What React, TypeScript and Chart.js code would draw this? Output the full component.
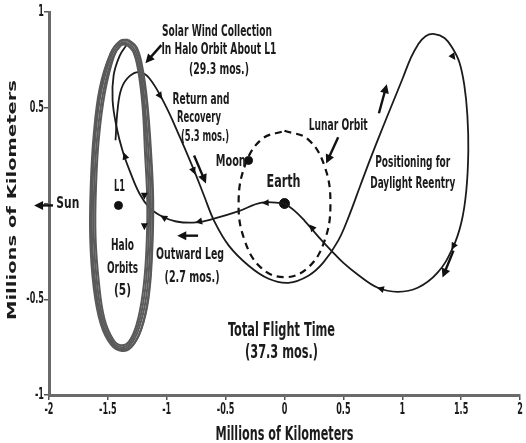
import React, { useEffect, useRef } from 'react';
import { Chart, registerables } from 'chart.js';

Chart.register(...registerables);

type Pt = [number, number];

// ---------- axes ----------
const xTickValues = [-2, -1.5, -1, -0.5, 0, 0.5, 1, 1.5, 2];
const xTickLabels = ['-2', '-1.5', '-1', '-0.5', '0', '0.5', '1', '1.5', '2'];
const yTickValues = [-1, -0.5, 0, 0.5, 1];
const yTickLabels = ['-1', '-0.5', '', '0.5', '1'];
const axisTitleX = 'Millions of Kilometers';
const axisTitleY = 'Millions of Kilometers';

// ---------- trajectory data (millions of km) ----------
const haloLoop1: Pt[] = [
  [-1.33, 0.85], [-1.26, 0.81], [-1.21, 0.7], [-1.17, 0.52], [-1.14, 0.28], [-1.12, 0.0],
  [-1.13, -0.28], [-1.16, -0.5], [-1.22, -0.66], [-1.3, -0.75], [-1.38, -0.77], [-1.47, -0.74],
  [-1.56, -0.63], [-1.62, -0.44], [-1.65, -0.18], [-1.645, 0.1], [-1.62, 0.36], [-1.57, 0.6],
  [-1.48, 0.78], [-1.4, 0.845], [-1.33, 0.85],
];
const haloLoop2: Pt[] = [
  [-1.335, 0.84], [-1.27, 0.8], [-1.22, 0.69], [-1.185, 0.51], [-1.155, 0.27], [-1.135, 0.0],
  [-1.145, -0.28], [-1.175, -0.49], [-1.235, -0.65], [-1.31, -0.74], [-1.385, -0.76], [-1.465, -0.73],
  [-1.55, -0.62], [-1.605, -0.43], [-1.635, -0.18], [-1.63, 0.1], [-1.605, 0.36], [-1.555, 0.59],
  [-1.47, 0.77], [-1.395, 0.835], [-1.335, 0.84],
];
const haloLoop3: Pt[] = [
  [-1.34, 0.83], [-1.28, 0.79], [-1.23, 0.68], [-1.195, 0.5], [-1.17, 0.27], [-1.15, 0.0],
  [-1.16, -0.27], [-1.19, -0.48], [-1.245, -0.64], [-1.315, -0.73], [-1.39, -0.75], [-1.46, -0.72],
  [-1.54, -0.61], [-1.59, -0.43], [-1.62, -0.17], [-1.615, 0.1], [-1.59, 0.35], [-1.54, 0.58],
  [-1.46, 0.76], [-1.39, 0.825], [-1.34, 0.83],
];
const haloLoop4: Pt[] = [
  [-1.345, 0.835], [-1.285, 0.795], [-1.24, 0.685], [-1.205, 0.505], [-1.185, 0.27], [-1.165, 0.0],
  [-1.175, -0.27], [-1.205, -0.475], [-1.255, -0.63], [-1.32, -0.72], [-1.39, -0.74], [-1.455, -0.71],
  [-1.53, -0.6], [-1.575, -0.42], [-1.605, -0.17], [-1.6, 0.1], [-1.575, 0.35], [-1.525, 0.58],
  [-1.45, 0.765], [-1.39, 0.83], [-1.345, 0.835],
];
const haloLoop5: Pt[] = [
  [-1.325, 0.855], [-1.255, 0.815], [-1.205, 0.705], [-1.165, 0.525], [-1.135, 0.285], [-1.115, 0.01],
  [-1.125, -0.27], [-1.155, -0.495], [-1.215, -0.655], [-1.295, -0.745], [-1.375, -0.765], [-1.46, -0.735],
  [-1.55, -0.625], [-1.61, -0.435], [-1.64, -0.175], [-1.635, 0.105], [-1.61, 0.365], [-1.56, 0.605],
  [-1.475, 0.785], [-1.395, 0.85], [-1.325, 0.855],
];
const haloLoops = [haloLoop1, haloLoop2, haloLoop3, haloLoop4, haloLoop5];

const outwardLeg: Pt[] = [
  [0, 0], [-0.194, 0.005], [-0.388, -0.04], [-0.599, -0.079], [-0.751, -0.099], [-0.92, -0.094],
  [-1.038, -0.068], [-1.148, -0.021], [-1.232, 0.052], [-1.316, 0.173], [-1.376, 0.277],
  [-1.426, 0.398], [-1.46, 0.539], [-1.451, 0.67], [-1.401, 0.77], [-1.342, 0.827],
];

const returnLeg: Pt[] = [
  [-1.435, 0.33], [-1.418, 0.487], [-1.384, 0.602], [-1.316, 0.665], [-1.232, 0.686],
  [-1.148, 0.654], [-1.021, 0.524],
  [-0.895, 0.356], [-0.768, 0.173], [-0.684, 0.042], [-0.599, -0.089], [-0.473, -0.22],
  [-0.304, -0.325], [-0.135, -0.393], [0.034, -0.414], [0.203, -0.377], [0.329, -0.309],
  [0.456, -0.194], [0.549, -0.063], [0.641, 0.089], [0.734, 0.241], [0.835, 0.398],
  [0.928, 0.539], [1.004, 0.654], [1.072, 0.759], [1.131, 0.827], [1.198, 0.874],
  [1.274, 0.885], [1.359, 0.864], [1.426, 0.812], [1.485, 0.738], [1.527, 0.618],
  [1.553, 0.461], [1.561, 0.277], [1.544, 0.068], [1.502, -0.099], [1.426, -0.236],
  [1.3, -0.361], [1.131, -0.44], [0.962, -0.461], [0.793, -0.44], [0.624, -0.372],
  [0.498, -0.309], [0.397, -0.246], [0.287, -0.173], [0.169, -0.089], [0.084, -0.037], [0, 0],
];

const lunarOrbit: Pt[] = [
  [0, 0.38], [0.2, 0.335], [0.34, 0.195], [0.39, 0], [0.34, -0.195], [0.2, -0.335], [0, -0.385],
  [-0.2, -0.335], [-0.34, -0.19], [-0.39, 0], [-0.335, 0.2], [-0.195, 0.335], [0, 0.38],
];

const bodyNames = ['Earth', 'L1', 'Moon'];
const bodyX = [0, -1.41, -0.305];
const bodyY = [0, -0.01, 0.225];

// direction arrowheads along the path: [fromX, fromY, tipX, tipY]
const pathArrowheads: number[][] = [
  [-1.105, 0.607, -1.038, 0.545],
  [-0.81, 0.225, -0.759, 0.152],
  [-0.118, 0.005, -0.194, 0.003],
  [-0.684, -0.089, -0.759, -0.099],
  [-0.996, -0.084, -1.055, -0.063],
  [-1.333, 0.209, -1.367, 0.267],
  [-1.19, 0.07, -1.19, 0.02],
  [-1.19, -0.09, -1.19, -0.14],
  [1.392, 0.801, 1.451, 0.749],
  [1.46, -0.194, 1.418, -0.241],
  [0.878, -0.455, 0.785, -0.44],
  [0.27, -0.152, 0.211, -0.11],
];

// pointer arrows of the annotations: [fromX, fromY, tipX, tipY]
const pointerArrows: number[][] = [
  [-1.046, 0.827, -1.181, 0.733],
  [-0.768, 0.251, -0.667, 0.105],
  [0.456, 0.346, 0.354, 0.209],
  [0.802, 0.471, 0.869, 0.623],
  [1.435, -0.246, 1.342, -0.387],
  [-0.734, -0.168, -0.911, -0.168],
  [-1.966, -0.01, -2.127, -0.01],
];

const labelTexts = [
  'Solar Wind Collection', 'In Halo Orbit About L1', '(29.3 mos.)',
  'Return and', 'Recovery', '(5.3 mos.)', 'Moon', 'L1', 'Sun', 'Earth', 'Lunar Orbit',
  'Positioning for', 'Daylight Reentry', 'Halo', 'Orbits', '(5)', 'Outward Leg', '(2.7 mos.)',
  'Total Flight Time', '(37.3 mos.)',
];
const labelX = [
  -0.574, -0.557, -0.557, -0.709, -0.726, -0.675, -0.456, -1.401, -1.84, -0.008, 0.456,
  1.089, 1.089, -1.376, -1.376, -1.376, -0.802, -0.785, -0.025, -0.025,
];
const labelY = [
  0.895, 0.801, 0.696, 0.539, 0.445, 0.346, 0.215, 0.084, -0.005, 0.11, 0.403,
  0.209, 0.099, -0.22, -0.34, -0.455, -0.272, -0.387, -0.665, -0.78,
];

// ---------- styling (not data) ----------
const labelWidths = [110, 115, 60, 57, 44, 48, 30, 11, 23, 34, 59, 75, 85, 23, 31, 17, 68, 55, 107, 73];
const labelSizes = [15, 15, 15, 15, 15, 15, 15, 15, 15, 18, 15, 15, 15, 15, 15, 15, 15, 15, 19, 19];
const FONT = '"DejaVu Sans Condensed", "DejaVu Sans", sans-serif';
const INK = '#1b1b1b';

function drawFitText(ctx: CanvasRenderingContext2D, text: string, cx: number, cy: number,
  size: number, width: number | null, squeeze = 1, rotate = 0, cross = 1) {
  ctx.save();
  ctx.font = `bold ${size}px ${FONT}`;
  const w = ctx.measureText(text).width || 1;
  const sx = width ? width / w : squeeze;
  ctx.translate(cx, cy);
  if (rotate) ctx.rotate(rotate);
  ctx.scale(sx, cross);
  ctx.textAlign = 'center';
  ctx.textBaseline = 'middle';
  ctx.fillStyle = INK;
  ctx.fillText(text, 0, 0);
  ctx.restore();
}

function drawHead(ctx: CanvasRenderingContext2D, x1: number, y1: number, x2: number, y2: number, len: number, half: number) {
  const a = Math.atan2(y2 - y1, x2 - x1);
  ctx.beginPath();
  ctx.moveTo(x2, y2);
  ctx.lineTo(x2 - len * Math.cos(a) + half * Math.sin(a), y2 - len * Math.sin(a) - half * Math.cos(a));
  ctx.lineTo(x2 - len * Math.cos(a) - half * Math.sin(a), y2 - len * Math.sin(a) + half * Math.cos(a));
  ctx.closePath();
  ctx.fill();
}

const annotationPlugin = {
  id: 'genesisAnnotations',
  afterDatasetsDraw(chart: any) {
    const { ctx, scales } = chart;
    const sx = scales.x, sy = scales.y;
    const px = (v: number) => sx.getPixelForValue(v);
    const py = (v: number) => sy.getPixelForValue(v);
    ctx.save();
    ctx.fillStyle = '#111';
    for (const [a, b, c, d] of pathArrowheads) drawHead(ctx, px(a), py(b), px(c), py(d), 7, 3.5);
    ctx.strokeStyle = '#111';
    ctx.lineWidth = 2.4;
    ctx.lineCap = 'butt';
    for (const [a, b, c, d] of pointerArrows) {
      const x1 = px(a), y1 = py(b), x2 = px(c), y2 = py(d);
      const ang = Math.atan2(y2 - y1, x2 - x1);
      ctx.beginPath();
      ctx.moveTo(x1, y1);
      ctx.lineTo(x2 - 6 * Math.cos(ang), y2 - 6 * Math.sin(ang));
      ctx.stroke();
      drawHead(ctx, x1, y1, x2, y2, 9, 4.5);
    }
    labelTexts.forEach((t, i) => {
      drawFitText(ctx, t, px(labelX[i]), py(labelY[i]), labelSizes[i], labelWidths[i]);
    });
    ctx.restore();
  },
  afterDraw(chart: any) {
    const { ctx, scales, chartArea } = chart;
    const sx = scales.x, sy = scales.y;
    xTickValues.forEach((v, i) => {
      drawFitText(ctx, xTickLabels[i], sx.getPixelForValue(v), chartArea.bottom + 15, 15, null, 0.6);
    });
    ctx.save();
    yTickValues.forEach((v, i) => {
      const t = yTickLabels[i];
      if (!t) return;
      ctx.font = `bold 15px ${FONT}`;
      const w = ctx.measureText(t).width * 0.6;
      drawFitText(ctx, t, chartArea.left - 5 - w / 2, sy.getPixelForValue(v), 15, null, 0.6);
    });
    ctx.restore();
    drawFitText(ctx, axisTitleX, (chartArea.left + chartArea.right) / 2, 435, 19, 138);
    drawFitText(ctx, axisTitleY, 13, 200, 17, 240, 1, -Math.PI / 2, 0.75);
  },
};

export default function App() {
  const ref = useRef<HTMLCanvasElement>(null);
  useEffect(() => {
    const toXY = (arr: Pt[]) => arr.map(([x, y]) => ({ x, y }));
    const datasets: any[] = haloLoops.map((loop, i) => ({
      label: `Halo orbit ${i + 1}`,
      data: toXY(loop),
      borderColor: '#5a5a5a',
      borderWidth: 2,
      pointRadius: 0,
      tension: 0.4,
      fill: false,
    }));
    datasets.push({
      label: 'Outward leg', data: toXY(outwardLeg), borderColor: '#1b1b1b', borderWidth: 1.8,
      pointRadius: 0, tension: 0.4, fill: false,
    });
    datasets.push({
      label: 'Return and recovery', data: toXY(returnLeg), borderColor: '#1b1b1b', borderWidth: 1.8,
      pointRadius: 0, tension: 0.4, fill: false,
    });
    datasets.push({
      label: 'Lunar orbit', data: toXY(lunarOrbit), borderColor: '#111', borderWidth: 2.2,
      borderDash: [7, 5], pointRadius: 0, tension: 0.4, fill: false,
    });
    datasets.push({
      label: 'Bodies', data: bodyNames.map((_, i) => ({ x: bodyX[i], y: bodyY[i] })),
      showLine: false, pointRadius: [5, 4, 4], pointBackgroundColor: '#111', pointBorderColor: '#111',
      borderColor: '#111',
    });

    const grid = { drawOnChartArea: false, color: '#555', lineWidth: 1.5, tickLength: 5 };
    const border = { color: '#6a6a6a', width: 3 };
    const chart = new Chart(ref.current as HTMLCanvasElement, {
      type: 'line',
      data: { datasets },
      options: {
        animation: false,
        responsive: true,
        maintainAspectRatio: false,
        layout: { padding: { top: 12, right: 4, left: 0, bottom: 0 } },
        plugins: { legend: { display: false }, tooltip: { enabled: false } },
        scales: {
          x: {
            type: 'linear', min: -2, max: 2,
            ticks: { stepSize: 0.5, display: false },
            grid, border,
            afterFit(s: any) { s.height = 48; },
          },
          y: {
            type: 'linear', min: -1, max: 1,
            ticks: { stepSize: 0.5, display: false },
            grid, border,
            afterFit(s: any) { s.width = 49; },
          },
        },
      } as any,
      plugins: [annotationPlugin],
    });
    return () => chart.destroy();
  }, []);
  return (
    <div style={{ position: 'fixed', left: 0, top: 0, width: 526, height: 443, background: '#fff' }}>
      <canvas ref={ref} />
    </div>
  );
}
